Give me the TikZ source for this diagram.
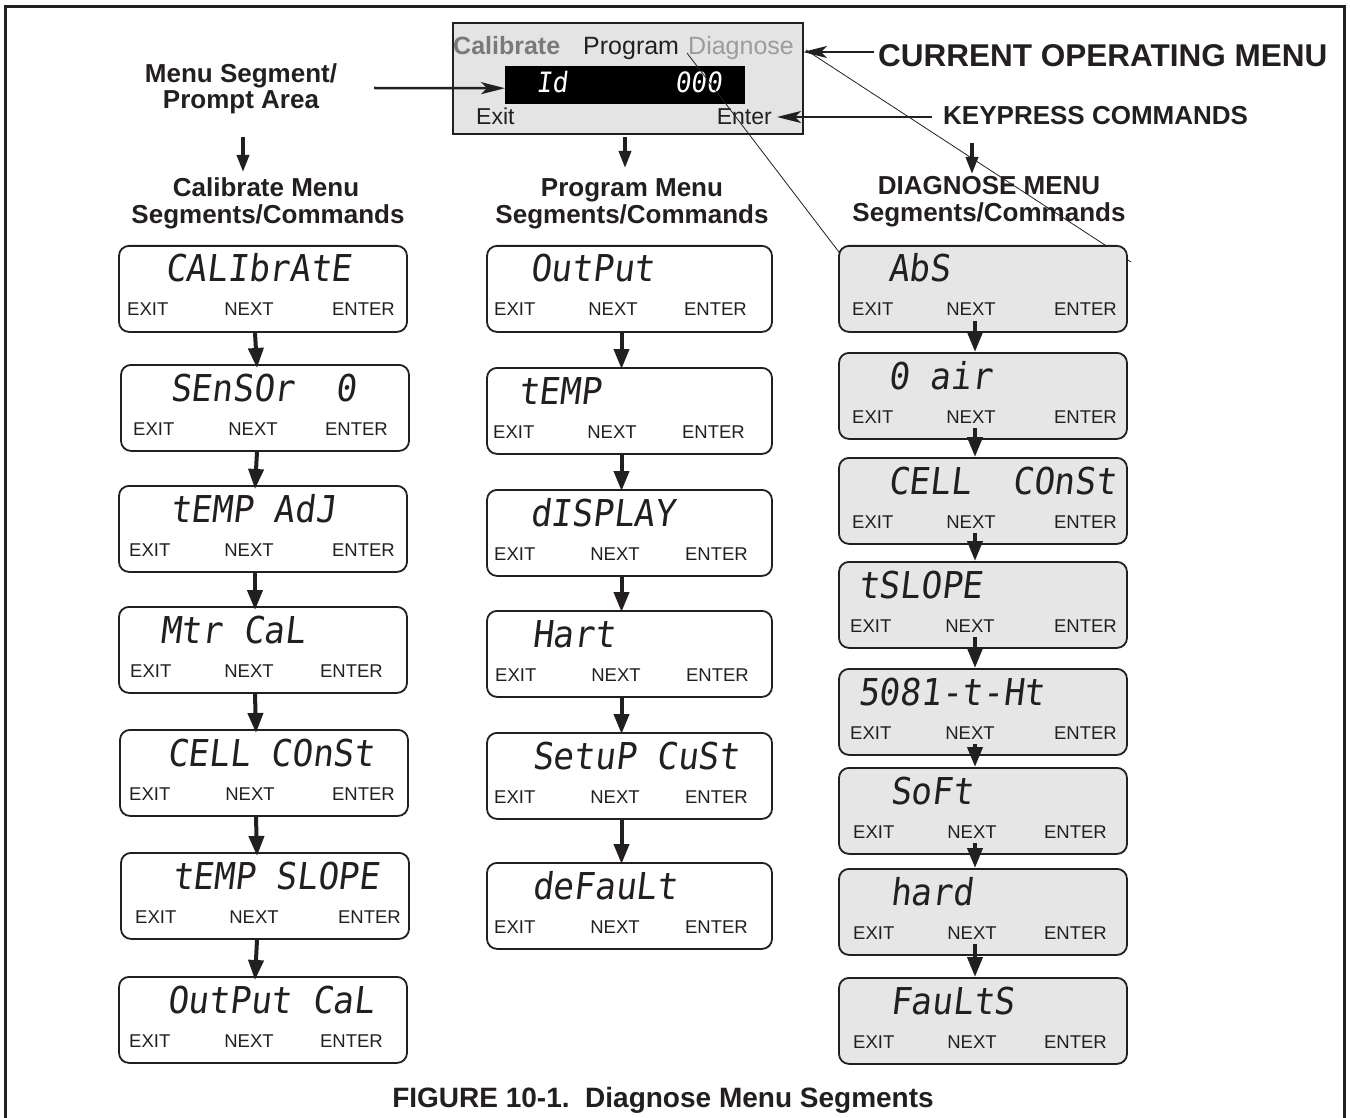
\documentclass[tikz,border=0pt]{standalone}
\usepackage{fontspec}
\setmainfont{Liberation Sans}
\newfontfamily\segfont[FakeSlant=0.12,FakeStretch=0.93]{DejaVu Sans Mono}
\usetikzlibrary{arrows.meta,calc}
\definecolor{ink}{HTML}{231F20}
\definecolor{panelgray}{HTML}{E6E6E6}
\definecolor{dispgray}{HTML}{E4E4E4}
\definecolor{calgray}{HTML}{7A7A7A}
\definecolor{diaggray}{HTML}{9C9C9C}
\tikzset{
  lcdbox/.style={draw=ink, line width=1.8pt, rounded corners=10pt, inner sep=0pt, minimum height=86pt},
  calpanel/.style={lcdbox, fill=white, minimum width=288pt},
  progpanel/.style={lcdbox, fill=white, minimum width=285pt},
  diagpanel/.style={lcdbox, fill=panelgray, minimum width=288pt},
  segtxt/.style={anchor=base west, inner sep=0pt, text=ink, font=\segfont\fontsize{37}{37}\selectfont},
  keytxt/.style={inner sep=0pt, text=ink, font=\fontsize{18.5}{20}\selectfont},
  hdr/.style={inner sep=0pt, anchor=base, text=ink, font=\bfseries\fontsize{26}{28}\selectfont},
  flow/.style={draw=ink, line width=4pt, -{Triangle[length=20pt,width=15pt]}},
  hdarrow/.style={draw=ink, line width=3.5pt, -{Triangle[length=17pt,width=12pt]}},
  callout/.style={draw=ink, line width=2.5pt, -{Stealth[length=24pt,width=12pt,inset=6pt]}},
  thinline/.style={draw=ink, line width=0.8pt},
}
% #1 name, #2 style, #3 centre x, #4 top y, #5 seg x, #6 seg text, #7 exit x, #8 next x, #9 enter right x
\newcommand\lcdpanel[9]{%
  \node[#2, anchor=north] (#1) at (#3,#4) {};
  \node[segtxt] (#1-seg) at (#5,#4+37) {#6};
  \node[keytxt, anchor=base west] (#1-exit) at (#7,#4+71) {EXIT};
  \node[keytxt, anchor=base] (#1-next) at (#8,#4+71) {NEXT};
  \node[keytxt, anchor=base east] (#1-enter) at (#9,#4+71) {ENTER};
}
\begin{document}
\begin{tikzpicture}[x=1pt,y=-1pt]
\useasboundingbox (0,0) rectangle (1350,1118);
% outer frame
\draw[ink, line width=2.5pt] (5.5,1118) -- (5.5,6.5) -- (1344.5,6.5) -- (1344.5,1118);

% top display
\node[draw=ink, line width=2pt, fill=dispgray, minimum width=350pt, minimum height=111pt, inner sep=0pt, anchor=north west] (disp) at (452,22) {};
\node[fill=black, minimum width=240pt, minimum height=38pt, inner sep=0pt, anchor=north west] (bar) at (505,66) {};
\node[anchor=base west, inner sep=0pt, text=calgray, font=\bfseries\fontsize{25}{25}\selectfont] (dcal) at (453,55) {Calibrate};
\node[anchor=base west, inner sep=0pt, text=ink, font=\fontsize{25}{25}\selectfont] (dprog) at (583,55) {Program};
\node[anchor=base west, inner sep=0pt, text=diaggray, font=\fontsize{25}{25}\selectfont] (ddiag) at (688,55) {Diagnose};
\node[anchor=base west, inner sep=0pt, text=white, font=\segfont\fontsize{28}{28}\selectfont] (did) at (536,93) {Id};
\node[anchor=base east, inner sep=0pt, text=white, font=\segfont\fontsize{28}{28}\selectfont] (dval) at (722,93) {000};
\node[anchor=base west, inner sep=0pt, text=ink, font=\fontsize{23}{23}\selectfont] (dexit) at (476,125) {Exit};
\node[anchor=base east, inner sep=0pt, text=ink, font=\fontsize{23}{23}\selectfont] (denter) at (772,125) {Enter};

% callout labels
\node[anchor=base west, inner sep=0pt, text=ink, font=\bfseries\fontsize{31.5}{32}\selectfont] (cur) at (878,67) {CURRENT OPERATING MENU};
\node[anchor=base west, inner sep=0pt, text=ink, font=\bfseries\fontsize{26}{28}\selectfont] (keyp) at (943,125) {KEYPRESS COMMANDS};
\node[hdr] (ms1) at (241,83) {Menu Segment/};
\node[hdr] (ms2) at (241,109) {Prompt Area};

\coordinate (curtail) at (874,52);
\coordinate (curtip) at (803,52);
\draw[callout] (curtail) -- (curtip);
\coordinate (keytail) at (932,117);
\coordinate (keytip) at (777,117);
\draw[callout] (keytail) -- (keytip);
\coordinate (mstail) at (374,88);
\draw[callout] (mstail) -- ([yshift=-3pt]bar.west);

% thin leader lines
\coordinate (la1) at (687,53);
\coordinate (la2) at (845,260);
\draw[thinline] (la1) -- (la2);
\coordinate (lb1) at (806,50);
\coordinate (lb2) at (1131,262);
\draw[thinline] (lb1) -- (lb2);

% column headers
\node[hdr] (calh1) at (266,197) {Calibrate Menu};
\node[hdr] (calh2) at (268,224) {Segments/Commands};
\node[hdr] (progh1) at (632,197) {Program Menu};
\node[hdr] (progh2) at (632,224) {Segments/Commands};
\node[hdr] (diagh1) at (989,195) {DIAGNOSE MENU};
\node[hdr] (diagh2) at (989,222) {Segments/Commands};

\coordinate (ha1) at (243,137);
\coordinate (ha2) at (243,172);
\draw[hdarrow] (ha1) -- (ha2);
\coordinate (hb1) at (625,137);
\coordinate (hb2) at (625,168);
\draw[hdarrow] (hb1) -- (hb2);
\coordinate (hc1) at (972,143);
\coordinate (hc2) at (972,174);
\draw[hdarrow] (hc1) -- (hc2);

% calibrate column
\lcdpanel{c1}{calpanel}{263}{245}{165}{CALIbrAtE}{127}{249}{395}
\lcdpanel{c2}{calpanel}{265}{364}{170}{SEnSOr~~0}{133}{253}{388}
\lcdpanel{c3}{calpanel}{263}{485}{170}{tEMP AdJ}{129}{249}{395}
\lcdpanel{c4}{calpanel}{263}{606}{160}{Mtr CaL}{130}{249}{383}
\lcdpanel{c5}{calpanel}{264}{729}{167}{CELL COnSt}{129}{250}{395}
\lcdpanel{c6}{calpanel}{265}{852}{172}{tEMP SLOPE}{135}{254}{401}
\lcdpanel{c7}{calpanel}{263}{976}{167}{OutPut CaL}{129}{249}{383}
\foreach \a/\b in {c1/c2,c2/c3,c3/c4,c4/c5,c5/c6,c6/c7}
  \draw[flow] ([xshift=-8pt]\a.south) -- ([xshift=-8pt,yshift=-4pt]\b.north);

% program column
\lcdpanel{p1}{progpanel}{629.5}{245}{530}{OutPut}{494}{613}{747}
\lcdpanel{p2}{progpanel}{629.5}{367}{518}{tEMP}{493}{612}{745}
\lcdpanel{p3}{progpanel}{629.5}{489}{530}{dISPLAY}{494}{615}{748}
\lcdpanel{p4}{progpanel}{629.5}{610}{532}{Hart}{495}{616}{749}
\lcdpanel{p5}{progpanel}{629.5}{732}{532}{SetuP CuSt}{494}{615}{748}
\lcdpanel{p6}{progpanel}{629.5}{862}{532}{deFauLt}{494}{615}{748}
\foreach \a/\b in {p1/p2,p2/p3,p3/p4,p4/p5,p5/p6}
  \draw[flow] ([xshift=-8pt]\a.south) -- ([xshift=-8pt,yshift=-2pt]\b.north);

% diagnose column
\lcdpanel{d1}{diagpanel}{983}{245}{888}{AbS}{852}{971}{1117}
\lcdpanel{d2}{diagpanel}{983}{352}{888}{0 air}{852}{971}{1117}
\lcdpanel{d3}{diagpanel}{983}{457}{888}{CELL~~COnSt}{852}{971}{1117}
\lcdpanel{d4}{diagpanel}{983}{561}{858}{tSLOPE}{850}{970}{1117}
\lcdpanel{d5}{diagpanel}{983}{668}{858}{5081-t-Ht}{850}{970}{1117}
\lcdpanel{d6}{diagpanel}{983}{767}{890}{SoFt}{853}{972}{1107}
\lcdpanel{d7}{diagpanel}{983}{868}{890}{hard}{853}{972}{1107}
\lcdpanel{d8}{diagpanel}{983}{977}{890}{FauLtS}{853}{972}{1107}
\foreach \a/\b in {d1/d2,d2/d3,d3/d4,d4/d5,d5/d6,d6/d7,d7/d8}
  \draw[flow] ([xshift=-8pt,yshift=12pt]\a.south) -- ([xshift=-8pt]\b.north);

% caption
\node[inner sep=0pt, anchor=base, text=ink, font=\bfseries\fontsize{28}{30}\selectfont] (caption) at (663,1107) {FIGURE 10-1.\ \ Diagnose Menu Segments};
\end{tikzpicture}
\end{document}
